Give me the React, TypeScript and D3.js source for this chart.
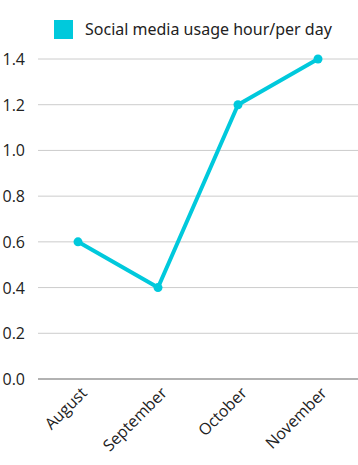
import React from "react";
import * as d3 from "d3";

const months = ["August", "September", "October", "November"];
const usage = [0.6, 0.4, 1.2, 1.4];
const yTicks = [0, 0.2, 0.4, 0.6, 0.8, 1.0, 1.2, 1.4];
const seriesName = "Social media usage hour/per day";

const W = 358, H = 465;
const color = "#00c9dc";

export default function App() {
  const x = d3.scaleBand<string>().domain(months).range([38, 358]);
  const y = d3.scaleLinear().domain([0, 1.4]).range([379, 59]);
  const line = d3.line<number>()
    .x((_, i) => (x(months[i]) as number) + x.bandwidth() / 2)
    .y((d) => y(d));
  return (
    <svg width={W} height={H} style={{ position: "absolute", left: 0, top: 0 }} fontFamily="'Open Sans', sans-serif">
      <rect x={54} y={20} width={19} height={19} fill={color} />
      <text x={85} y={35} fontSize={16} fill="#222" fontFamily="'Noto Sans', sans-serif">{seriesName}</text>
      {yTicks.map((t) => (
        <g key={t}>
          <line x1={38} x2={358} y1={y(t)} y2={y(t)} stroke={t === 0 ? "#999" : "#ccc"} strokeWidth={t === 0 ? 1.5 : 1} />
          <text x={25} y={y(t) + 6} fontSize={16} textAnchor="end" fill="#222">{t.toFixed(1)}</text>
        </g>
      ))}
      <path d={line(usage) || ""} fill="none" stroke={color} strokeWidth={4} strokeLinejoin="round" />
      {usage.map((v, i) => (
        <circle key={i} cx={(x(months[i]) as number) + x.bandwidth() / 2} cy={y(v)} r={4.5} fill={color} />
      ))}
      {months.map((m) => {
        const cx = (x(m) as number) + x.bandwidth() / 2 + 10;
        return (
          <text key={m} x={cx} y={394} fontSize={16} textAnchor="end" fill="#222" transform={`rotate(-45 ${cx} 394)`}>{m}</text>
        );
      })}
    </svg>
  );
}
